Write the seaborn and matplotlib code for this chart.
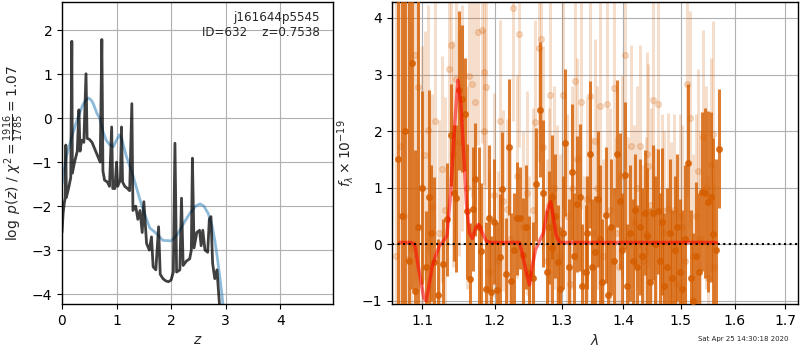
import matplotlib
matplotlib.use("Agg")
import matplotlib.pyplot as plt
import numpy as np
import pandas as pd
import seaborn as sns

# ---- left panel: log p(z) ----
z_chi2 = [0.0, 0.02, 0.04, 0.06, 0.07, 0.08, 0.12, 0.16, 0.18, 0.19, 0.23, 0.26, 0.28,
          0.31, 0.33, 0.36, 0.40, 0.44, 0.46, 0.50, 0.55, 0.60, 0.65, 0.70, 0.73, 0.75,
          0.78, 0.83, 0.87, 0.91, 0.93, 0.97, 1.00, 1.02, 1.07, 1.09, 1.11, 1.15, 1.20,
          1.24, 1.28, 1.30, 1.35, 1.39, 1.43, 1.47, 1.50, 1.55, 1.60, 1.64, 1.67, 1.72,
          1.77, 1.80, 1.85, 1.90, 1.95, 2.00, 2.04, 2.07, 2.10, 2.16, 2.19, 2.22, 2.28,
          2.34, 2.37, 2.39, 2.42, 2.47, 2.52, 2.55, 2.58, 2.62, 2.67, 2.70, 2.73, 2.76,
          2.80, 2.84, 2.86, 2.89, 2.92]
logp_chi2 = [-2.6, -2.17, -1.95, -1.8, -0.61, -1.8, -1.6, -1.35, 1.75, -1.25, -1.0, -0.85,
             -0.75, 0.19, -0.75, -0.5, -0.55, 1.01, -0.46, -0.48, -0.55, -0.7, -0.85, -1.0,
             1.79, -1.2, -1.41, -1.45, -1.55, -0.2, -1.6, -1.6, -1.0, -1.55, -1.4, -0.2,
             -1.45, -1.55, -1.6, -1.65, 0.33, -2.1, -2.0, -2.3, -2.1, -2.6, -1.9, -2.85,
             -3.0, -2.7, -3.38, -3.45, -2.47, -3.55, -3.65, -3.7, -3.72, -3.68, -3.5, -0.57,
             -3.5, -3.45, -1.82, -3.35, -3.25, -3.2, -3.0, -0.91, -2.95, -2.6, -2.55, -2.9,
             -2.55, -3.0, -3.05, -2.3, -2.24, -3.3, -3.65, -3.45, -3.8, -4.3, -4.8]

z_prior = [0.0, 0.02, 0.08, 0.14, 0.20, 0.26, 0.32, 0.38, 0.42, 0.48, 0.53, 0.57, 0.64,
           0.69, 0.75, 0.81, 0.87, 0.94, 1.00, 1.05, 1.10, 1.18, 1.30, 1.43, 1.52, 1.61,
           1.73, 1.85, 2.00, 2.10, 2.16, 2.25, 2.34, 2.45, 2.53, 2.60, 2.68, 2.75, 2.80,
           2.85, 2.89, 2.93, 2.97]
logp_prior = [-1.5, -1.33, -0.87, -0.6, -0.34, -0.1, 0.11, 0.3, 0.38, 0.46, 0.42, 0.34,
              0.11, 0.0, -0.3, -0.5, -0.6, -0.65, -0.5, -0.38, -0.5, -0.87, -1.3, -1.86,
              -2.2, -2.5, -2.62, -2.78, -2.79, -2.67, -2.55, -2.35, -2.17, -2.0, -1.95,
              -2.0, -2.17, -2.45, -2.78, -3.2, -3.6, -4.0, -4.5]

# ---- right panel: spectrum (flux x 1e-19) ----
wave_a = [1.068, 1.073, 1.078, 1.082, 1.087, 1.0905, 1.094, 1.099, 1.105, 1.109, 1.112,
          1.116, 1.121, 1.128, 1.133, 1.138, 1.143, 1.146, 1.149, 1.153, 1.158, 1.161,
          1.165, 1.169, 1.172, 1.177, 1.180, 1.187, 1.191, 1.195, 1.199, 1.203, 1.207,
          1.211, 1.216, 1.220, 1.223, 1.228, 1.232, 1.237, 1.242, 1.246, 1.251, 1.256,
          1.261, 1.267, 1.272, 1.277, 1.281, 1.285, 1.286, 1.290, 1.294, 1.298, 1.302,
          1.306, 1.311, 1.316, 1.320, 1.325, 1.329, 1.333, 1.338, 1.341, 1.345, 1.349,
          1.354, 1.358, 1.362, 1.365, 1.371, 1.375, 1.380, 1.384, 1.389, 1.394, 1.398,
          1.403, 1.407, 1.412, 1.416, 1.420, 1.424, 1.428, 1.432, 1.437, 1.441, 1.445,
          1.451, 1.455, 1.459, 1.463, 1.467, 1.471, 1.476, 1.480, 1.485, 1.489, 1.494,
          1.498, 1.503, 1.508, 1.514, 1.518, 1.523, 1.528, 1.533, 1.539, 1.545, 1.549,
          1.555, 1.560, 1.565, 1.570]
flux_a = [1.5, 0.5, 2.0, -0.3, 3.2, -0.83, 0.3, 1.0, -0.41, 0.83, 0.2, -0.31, -0.9, -0.35,
          0.44, 1.93, 0.9, 0.81, 2.72, 2.57, 2.3, 0.58, -0.62, 0.62, 1.15, 0.31, -0.12,
          -0.8, 0.46, -0.85, 0.4, -0.81, -0.22, 0.98, -0.53, 1.72, -0.65, -0.1, 0.46,
          0.46, -0.19, 0.3, -0.51, -0.6, 1.06, 2.38, 0.9, -0.5, 0.3, 0.83, -0.07, 0.5,
          -0.31, -0.8, 0.2, 1.79, -0.4, 1.27, -0.2, 0.71, 0.83, -0.74, -0.5, 0.2, 1.59,
          -0.4, -0.14, 0.8, 0.1, -0.66, 0.52, -0.9, 0.3, -0.3, 1.6, 0.76, -0.1, 1.22,
          -0.74, 0.2, -0.3, 0.6, -0.4, 0.3, -0.2, 0.56, 0.14, -0.66, 0.56, 0.0, 0.58,
          -0.3, 0.4, -0.74, -0.4, 0.2, -0.6, -0.1, 0.3, -0.5, -0.8, 0.1, 1.43, -0.6,
          -1.0, -0.2, -0.5, 0.93, 0.91, 0.75, 0.83, 0.18, -0.1, 1.69]
err_a = [5.0, 5.0, 5.0, 5.0, 4.0, 2.5, 4.0, 1.7, 1.0, 1.9, 1.2, 1.5, 1.0, 0.8, 1.0, 0.9,
         1.2, 1.3, 1.4, 1.3, 1.0, 1.2, 1.0, 1.1, 1.0, 1.4, 1.2, 1.2, 1.3, 1.0, 1.1, 1.2,
         1.1, 1.0, 1.0, 1.2, 1.2, 1.0, 1.0, 0.9, 1.0, 1.1, 1.0, 1.0, 1.0, 1.2, 1.3, 1.1,
         1.0, 1.1, 1.0, 1.1, 1.0, 1.1, 1.0, 1.3, 1.2, 1.2, 1.1, 1.2, 1.3, 1.1, 1.2, 1.0,
         1.3, 1.2, 1.0, 1.2, 1.3, 1.1, 1.2, 1.2, 1.2, 1.3, 1.3, 1.2, 1.0, 1.3, 1.1, 1.2,
         1.1, 1.0, 1.1, 1.2, 1.2, 1.1, 1.2, 1.3, 1.2, 1.2, 1.1, 1.2, 1.3, 1.3, 1.4, 1.3,
         1.2, 1.3, 1.3, 1.3, 1.4, 1.3, 1.4, 1.2, 1.2, 1.3, 1.4, 1.4, 1.5, 1.6, 1.5, 1.7,
         1.6, 1.05]

wave_b = [1.066, 1.071, 1.076, 1.081, 1.085, 1.090, 1.094, 1.099, 1.103, 1.108, 1.113,
          1.117, 1.122, 1.126, 1.131, 1.136, 1.138, 1.141, 1.145, 1.150, 1.154, 1.160,
          1.163, 1.168, 1.172, 1.176, 1.181, 1.184, 1.185, 1.188, 1.192, 1.199, 1.204,
          1.208, 1.212, 1.218, 1.222, 1.227, 1.232, 1.236, 1.241, 1.247, 1.251, 1.257,
          1.260, 1.265, 1.268, 1.271, 1.277, 1.281, 1.282, 1.288, 1.293, 1.298, 1.303,
          1.308, 1.313, 1.317, 1.321, 1.325, 1.331, 1.336, 1.341, 1.345, 1.349, 1.353,
          1.357, 1.361, 1.367, 1.373, 1.378, 1.384, 1.388, 1.393, 1.398, 1.403, 1.408,
          1.413, 1.418, 1.424, 1.428, 1.433, 1.438, 1.441, 1.443, 1.448, 1.451, 1.456,
          1.460, 1.466, 1.471, 1.477, 1.482, 1.488, 1.493, 1.498, 1.503, 1.508, 1.512,
          1.517, 1.522, 1.527, 1.532, 1.536, 1.541, 1.546, 1.550, 1.555, 1.559, 1.561]
flux_b = [-0.2, 1.73, 0.5, -0.27, -0.07, 3.35, 2.78, 1.0, 1.57, 2.02, 0.65, 2.18, 0.2,
          1.33, 0.6, 3.1, 3.52, 1.6, 2.92, 1.8, 2.23, 1.0, 2.97, 2.84, 2.51, 3.75, 3.79,
          2.0, 3.04, 2.78, -0.5, 0.87, -0.3, 2.17, 0.77, 0.62, 0.1, 4.18, 1.2, 3.72, 0.3,
          0.9, -0.4, 0.6, 2.16, 3.46, 3.63, 1.71, -0.3, 0.7, 2.64, 1.0, 0.3, -0.2, 2.64,
          0.5, -0.7, 1.0, 2.89, 1.5, 2.52, -0.5, 0.8, 2.62, 0.2, 1.83, 1.0, 2.45, -0.2,
          2.48, 0.6, 2.76, 0.2, -0.4, 1.2, 3.35, 0.1, 1.73, 0.4, 1.0, 1.73, -0.3, 0.2,
          1.6, 1.39, 0.7, 2.55, 0.0, 2.48, 0.6, 0.2, 0.62, 0.0, 0.6, -0.7, 0.5, 0.3, -0.3,
          2.83, 2.23, -0.2, 0.5, 1.3, 0.1, 1.89, 1.0, -0.6, 1.4, 1.95, -0.41]
err_b = [5.0, 5.0, 5.0, 5.0, 4.0, 4.0, 3.0, 2.5, 2.2, 2.2, 2.0, 2.2, 2.0, 2.0, 2.0, 2.0,
         2.0, 2.0, 2.2, 2.0, 2.0, 1.8, 2.0, 2.0, 1.8, 2.0, 2.0, 1.8, 2.0, 1.8, 1.8, 1.8,
         1.6, 1.8, 1.6, 1.6, 1.6, 2.0, 1.8, 2.0, 1.7, 1.8, 1.6, 1.8, 1.8, 2.0, 2.0, 1.8,
         1.8, 1.7, 2.0, 1.8, 1.8, 1.8, 2.0, 1.8, 1.7, 1.8, 2.0, 1.8, 1.9, 1.7, 1.8, 1.9,
         1.7, 1.8, 1.8, 1.9, 1.7, 1.9, 1.8, 1.9, 1.7, 1.7, 1.8, 2.0, 1.8, 1.8, 1.7, 1.8,
         1.8, 1.7, 1.7, 1.8, 1.8, 1.7, 1.9, 1.7, 1.9, 1.7, 1.8, 1.7, 1.8, 1.7, 1.8, 1.8,
         1.8, 1.7, 2.0, 1.9, 1.8, 1.8, 1.8, 1.9, 1.9, 1.8, 1.8, 1.9, 2.0, 1.5]

wave_model = [1.071, 1.085, 1.090, 1.096, 1.102, 1.105, 1.108, 1.113, 1.118, 1.123, 1.128,
              1.133, 1.138, 1.143, 1.148, 1.152, 1.156, 1.160, 1.164, 1.168, 1.173, 1.177,
              1.182, 1.188, 1.195, 1.236, 1.241, 1.247, 1.251, 1.255, 1.260, 1.266, 1.272,
              1.278, 1.283, 1.287, 1.292, 1.297, 1.566]
flux_model = [0.03, 0.03, 0.0, -0.5, -0.95, -1.0, -0.8, -0.4, -0.2, -0.02, 0.05, 0.15, 0.9,
              2.0, 2.9, 2.5, 1.6, 0.7, 0.2, 0.1, 0.3, 0.35, 0.2, 0.05, 0.03, 0.03, -0.2,
              -0.55, -0.72, -0.4, -0.1, 0.05, 0.2, 0.6, 0.75, 0.5, 0.15, 0.03, 0.03]

wave_ticks = [1.1, 1.2, 1.3, 1.4, 1.5, 1.6, 1.7]
target = "j161644p5545"
obj_id = 632
z_best = 0.7538
chi2_num, chi2_den = 1916, 1785

sns.set_style("white")
plt.rcParams["font.family"] = ["DejaVu Sans"]

fig = plt.figure(figsize=(8, 3.5), dpi=100)
ax1 = fig.add_axes([0.0775, 0.131, 0.339, 0.863])
ax2 = fig.add_axes([0.49, 0.131, 0.5075, 0.863])

for ax in (ax1, ax2):
    for s in ax.spines.values():
        s.set_color("black")
        s.set_linewidth(1.0)
    ax.tick_params(direction="out", length=3.5, width=0.8, colors="black",
                   labelsize=10, left=True, bottom=True)
    ax.grid(True, color="#b0b0b0", linewidth=0.8)

# left panel
sns.lineplot(x=z_prior, y=logp_prior, ax=ax1, color="#1f77b4", alpha=0.5,
             linewidth=2, sort=False, estimator=None)
sns.lineplot(x=z_chi2, y=logp_chi2, ax=ax1, color="black", alpha=0.75,
             linewidth=2, sort=False, estimator=None)
ax1.set_xlim(0, 4.97)
ax1.set_ylim(-4.23, 2.64)
ax1.set_xticks([0, 1, 2, 3, 4])
ax1.set_yticks([-4, -3, -2, -1, 0, 1, 2])
ax1.set_xlabel("$z$", fontsize=10)
ax1.set_ylabel(r"$\log\ p(z)$ / $\chi^2=\frac{%d}{%d}=%.2f$"
               % (chi2_num, chi2_den, chi2_num / chi2_den), fontsize=10)
ax1.text(0.95, 0.97, "%s\nID=%d    z=%.4f" % (target, obj_id, z_best),
         transform=ax1.transAxes, ha="right", va="top", fontsize=8.6)

# right panel
orange = "#d55e00"
ax2.errorbar(wave_b, flux_b, yerr=err_b, fmt="o", color=orange, ecolor=orange,
             alpha=0.2, ms=4.2, elinewidth=2.2, capsize=0, zorder=2)
ax2.errorbar(wave_a, flux_a, yerr=err_a, fmt="o", color=orange, ecolor=orange,
             alpha=0.8, ms=4.0, elinewidth=2.2, capsize=0, zorder=3)
df_model = pd.DataFrame({"wave": wave_model, "flux": flux_model})
sns.lineplot(data=df_model, x="wave", y="flux", ax=ax2, color="red", alpha=0.55,
             linewidth=2.5, sort=False, estimator=None, zorder=4)
ax2.axhline(0, color="black", linestyle=":", linewidth=1.5, zorder=5)

ax2.set_xscale("log")
ax2.set_xlim(1.0607, 1.7267)
ax2.set_ylim(-1.06, 4.28)
ax2.set_xticks(wave_ticks)
ax2.set_xticklabels(["%.1f" % w for w in wave_ticks])
ax2.xaxis.set_minor_locator(matplotlib.ticker.NullLocator())
ax2.set_yticks([-1, 0, 1, 2, 3, 4])
ax2.set_xlabel(r"$\lambda$", fontsize=10)
ax2.set_ylabel(r"$f_\lambda\times10^{-19}$", fontsize=10)

fig.text(0.985, 0.022, "Sat Apr 25 14:30:18 2020", ha="right", va="bottom", fontsize=5)

fig.savefig("out.png", dpi=100)
plt.close(fig)
